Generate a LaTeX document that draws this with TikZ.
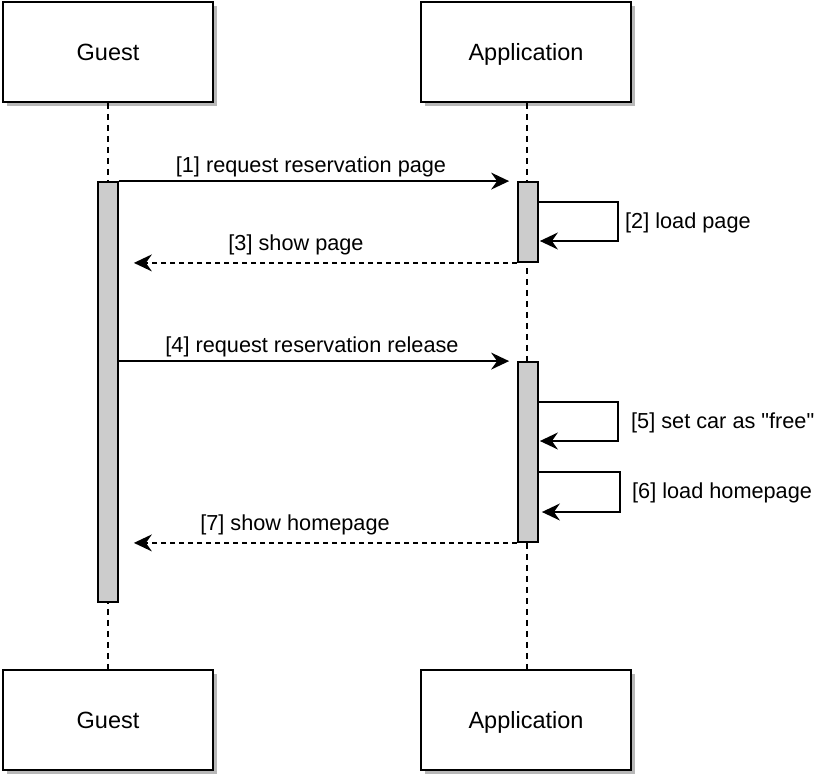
\documentclass[tikz,border=0pt]{standalone}
\usepackage{fontspec}
\setmainfont{Liberation Sans}
\usetikzlibrary{arrows.meta}

\definecolor{actgray}{HTML}{CCCCCC}
\definecolor{shadowgray}{HTML}{B8B8B8}

% straight double quote, not changed by the TeX mapping
\newcommand{\dq}{\XeTeXglyph\XeTeXglyphindex "quotedbl" }

\tikzset{
    actor/.style={draw, line width=1.8pt, fill=white, minimum width=210pt, minimum height=100pt,
        preaction={fill=shadowgray, transform canvas={xshift=4pt, yshift=-4pt}}},
    actortext/.style={font=\fontsize{23.5}{28}\selectfont, inner sep=0pt, anchor=base},
    activation/.style={draw, line width=1.8pt, fill=actgray, minimum width=20pt, inner sep=0pt},
    lifeline/.style={line width=1.6pt, dash pattern=on 6pt off 5pt},
    msg/.style={line width=1.5pt, -{Stealth[length=18pt, width=17pt, inset=6pt]}},
    reply/.style={msg, dash pattern=on 5pt off 4pt},
    msglabel/.style={font=\fontsize{21.7}{26}\selectfont, inner sep=0pt, anchor=base}
}

\begin{document}
\begin{tikzpicture}[x=1pt, y=-1pt]
    \useasboundingbox (0,0) rectangle (822,779);

    %% actors top and bottom
    \node[actor] (guestTop) at (108,52) {};
    \node[actor] (appTop) at (526,52) {};
    \node[actor] (guestBot) at (108,720) {};
    \node[actor] (appBot) at (526,720) {};
    \node[actortext] (guestTopTxt) at (108,60) {Guest};
    \node[actortext] (appTopTxt) at (526,60) {Application};
    \node[actortext] (guestBotTxt) at (108,728) {Guest};
    \node[actortext] (appBotTxt) at (526,728) {Application};

    %% lifelines
    \draw[lifeline] (guestTop.south) -- (guestBot.north);
    \draw[lifeline] ([xshift=1pt]appTop.south) -- ([xshift=1pt]appBot.north);

    %% activations
    \node[activation, minimum height=420pt] (guestAct) at (108,392) {};
    \node[activation, minimum height=80pt] (appActA) at (528,222) {};
    \node[activation, minimum height=180pt] (appActB) at (528,452) {};

    %% messages
    \draw[msg, shorten >=8pt] (guestAct.north east) -- (appActA.north west);
    \node[msglabel] (lblOne) at (311,172) {[1] request reservation page};

    \draw[msg, shorten >=1pt] (appActA.east |- 0,202) -- (618,202) -- (618,241) -- (appActA.east |- 0,241);
    \node[msglabel, anchor=base west] (lblTwo) at (625,228) {[2] load page};

    \draw[reply, shorten >=15pt] (appActA.south west) -- (guestAct.east |- appActA.south);
    \node[msglabel] (lblThree) at (296,250) {[3] show page};

    \draw[msg, shorten >=8pt] (guestAct.east |- appActB.north) -- (appActB.north west);
    \node[msglabel] (lblFour) at (312,352) {[4] request reservation release};

    \draw[msg, shorten >=1pt] (appActB.east |- 0,402) -- (618,402) -- (618,441) -- (appActB.east |- 0,441);
    \node[msglabel, anchor=base west] (lblFive) at (631,428) {[5] set car as \dq free\dq};

    \draw[msg, shorten >=3pt] (appActB.east |- 0,472) -- (620,472) -- (620,512) -- (appActB.east |- 0,512);
    \node[msglabel, anchor=base west] (lblSix) at (632,498) {[6] load homepage};

    \draw[reply, shorten >=15pt] (appActB.south west) -- (guestAct.east |- appActB.south);
    \node[msglabel] (lblSeven) at (295,530) {[7] show homepage};
\end{tikzpicture}
\end{document}
